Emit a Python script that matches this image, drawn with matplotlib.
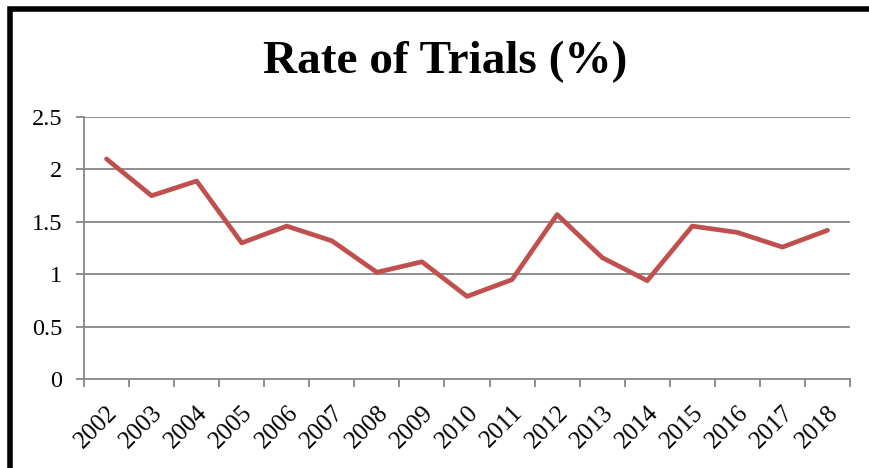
import matplotlib
matplotlib.use("Agg")
import matplotlib.pyplot as plt
from matplotlib.patches import Rectangle
from matplotlib.ticker import FixedLocator

years = ["2002", "2003", "2004", "2005", "2006", "2007", "2008", "2009", "2010",
         "2011", "2012", "2013", "2014", "2015", "2016", "2017", "2018"]
rates = [2.10, 1.75, 1.89, 1.30, 1.46, 1.32, 1.02, 1.12, 0.79,
         0.95, 1.57, 1.16, 0.94, 1.46, 1.40, 1.26, 1.42]
y_ticks = [0, 0.5, 1, 1.5, 2, 2.5]
y_labels = ["0", "0.5", "1", "1.5", "2", "2.5"]
title = "Rate of Trials (%)"

plt.rcParams['font.family'] = ['Liberation Serif', 'DejaVu Serif']

W, H = 870, 468
fig = plt.figure(figsize=(W / 100, H / 100), dpi=100)
ax = fig.add_axes([84 / W, 1 - 379.3 / H, (850 - 84) / W, (379.3 - 117) / H])

grid_c = "#868686"
x = list(range(len(years)))
ax.plot(x, rates, color="#C0504D", linewidth=3.4, solid_joinstyle="round",
        solid_capstyle="round", zorder=3)

ax.set_xlim(-0.5, len(years) - 0.5)
ax.set_ylim(0, 2.5)
ax.set_yticks(y_ticks)
ax.set_yticklabels(y_labels, fontsize=17.5)
for yv in y_ticks[1:]:
    ax.axhline(yv, color=grid_c, linewidth=1.3, zorder=1)

ax.set_xticks(x)
ax.set_xticklabels(years, fontsize=18, rotation=45, ha="right", va="top",
                   rotation_mode="anchor")
ax.tick_params(axis="x", which="major", length=0, pad=16)
ax.xaxis.set_minor_locator(FixedLocator([i - 0.5 for i in range(len(years) + 1)]))
ax.tick_params(axis="x", which="minor", length=5.5, width=1.3, color=grid_c, direction="out")
ax.tick_params(axis="y", length=5.5, width=1.3, color=grid_c, direction="out", pad=10)

for s in ["top", "right"]:
    ax.spines[s].set_visible(False)
for s in ["left", "bottom"]:
    ax.spines[s].set_color(grid_c)
    ax.spines[s].set_linewidth(1.3)

fig.text(445 / W, 1 - 73 / H, title, ha="center", va="baseline",
         fontsize=34, fontweight="bold")

rect = Rectangle((10 / W, -0.1), 1.2, (H - 8.5) / H + 0.1, transform=fig.transFigure,
                 fill=False, edgecolor="black", linewidth=4, clip_on=False)
fig.patches.append(rect)

fig.savefig("out.png", dpi=100)
